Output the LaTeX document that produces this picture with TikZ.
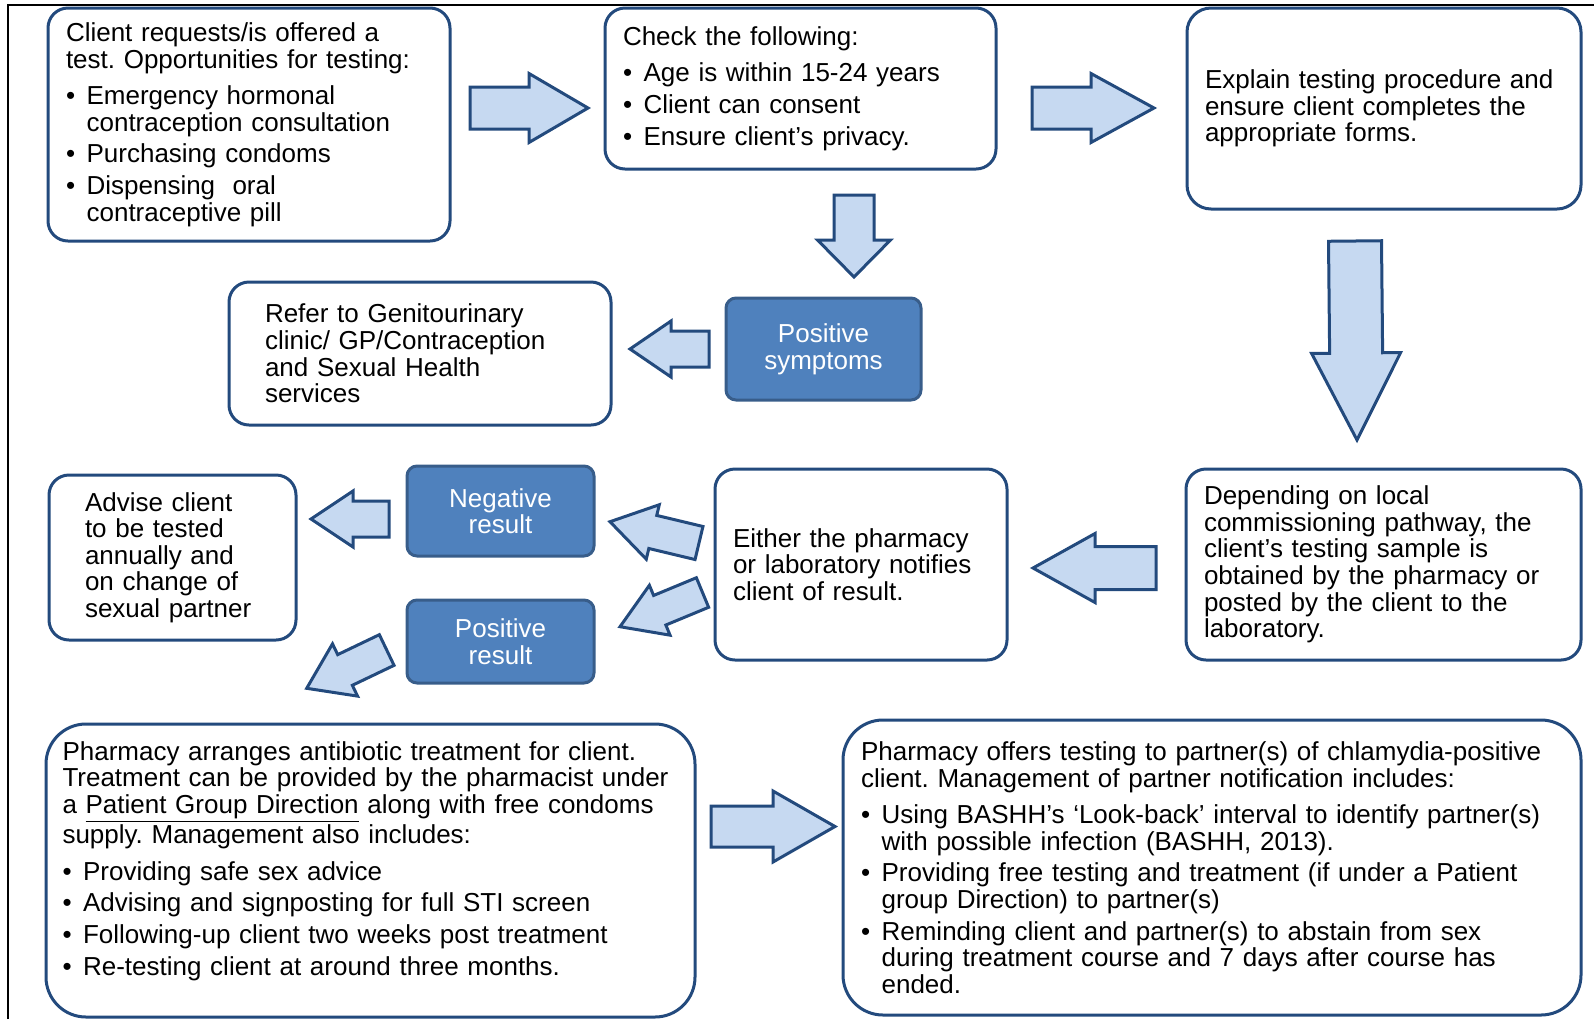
\documentclass[tikz,border=0pt]{standalone}
\usepackage{fontspec}
\setmainfont{Liberation Sans}
\usetikzlibrary{calc}

\definecolor{boxline}{RGB}{35,74,125}
\definecolor{arrowfill}{RGB}{198,217,241}
\definecolor{resultfill}{RGB}{79,129,189}
\definecolor{resultline}{RGB}{56,93,138}

\newcommand\itm{\makebox[10.3pt][l]{\textbullet}}
\newcommand\cnt{\hspace*{10.3pt}}
\frenchspacing

\begin{document}
\begin{tikzpicture}[x=0.5pt, y=-0.5pt,
  every node/.style={font=\fontsize{13}{13.3}\selectfont},
  stepbox/.style={draw=boxline, line width=1.5pt, rounded corners=10pt, fill=white,
    align=left, inner xsep=9pt, inner ysep=0pt},
  resbox/.style={draw=resultline, line width=1.5pt, rounded corners=5pt,
    fill=resultfill, text=white, align=center},
  blkarrow/.style={draw=boxline, line width=1.5pt, fill=arrowfill, line join=miter}]

  \useasboundingbox (0,0) rectangle (1594,1019);

  \newcommand\blockarrow[5]{%
    \coordinate (hb) at ($(#2)!#5!(#1)$);
    \draw[blkarrow] ($(#1)!#3!90:(#2)$) -- ($(hb)!#3!90:(#2)$) -- ($(hb)!#4!90:(#2)$) -- (#2)
      -- ($(hb)!#4!-90:(#2)$) -- ($(hb)!#3!-90:(#2)$) -- ($(#1)!#3!-90:(#2)$) -- cycle;
  }

  % frame
  \draw[line width=1pt] (8,1019) -- (8,5) -- (1594,5);

  % top row
  \node[stepbox, minimum width=201pt, minimum height=116.5pt, text width=183pt] (client) at (249,124.5)
    {Client requests/is offered a\\
     test. Opportunities for testing:\\[5pt]
     \itm Emergency hormonal\\
     \cnt contraception consultation\\[2.5pt]
     \itm Purchasing condoms\\[2.5pt]
     \itm Dispensing\ \ oral\\
     \cnt contraceptive pill};
  \node[stepbox, minimum width=195.5pt, minimum height=80.5pt, text width=177.5pt] (check) at (800.5,88.5)
    {Check the following:\\[5pt]
     \itm Age is within 15-24 years\\[2.5pt]
     \itm Client can consent\\[2.5pt]
     \itm Ensure client’s privacy.};
  \node[stepbox, rounded corners=12pt, minimum width=197pt, minimum height=100.5pt, text width=179pt] (explain) at (1384,108.5)
    {Explain testing procedure and\\
     ensure client completes the\\
     appropriate forms.};

  % symptoms row
  \node[stepbox, inner xsep=18pt, minimum width=191pt, minimum height=71.5pt, text width=155pt] (refer) at (420,353.5)
    {Refer to Genitourinary\\
     clinic/ GP/Contraception\\
     and Sexual Health\\
     services};
  \node[resbox, minimum width=97.5pt, minimum height=51pt] (possym) at (823.5,349) {Positive\\symptoms};

  % result row
  \node[stepbox, inner xsep=18pt, minimum width=123.5pt, minimum height=82.5pt, text width=87.5pt] (advise) at (172.5,557.5)
    {Advise client\\
     to be tested\\
     annually and\\
     on change of\\
     sexual partner};
  \node[resbox, minimum width=93.5pt, minimum height=45pt] (negres) at (500.5,511) {Negative\\result};
  \node[resbox, minimum width=93.5pt, minimum height=41.5pt] (posres) at (500.5,641.5) {Positive\\result};
  \node[stepbox, minimum width=146pt, minimum height=95.5pt, text width=128pt] (notify) at (861,564.5)
    {Either the pharmacy\\
     or laboratory notifies\\
     client of result.};
  \node[stepbox, minimum width=197.5pt, minimum height=95.5pt, text width=179.5pt] (sample) at (1383.5,564.5)
    {Depending on local\\
     commissioning pathway, the\\
     client’s testing sample is\\
     obtained by the pharmacy or\\
     posted by the client to the\\
     laboratory.};

  % bottom row
  \node[stepbox, rounded corners=20pt, inner xsep=8.25pt, minimum width=324.5pt, minimum height=146.5pt, text width=308pt] (treat) at (370.5,870.5)
    {Pharmacy arranges antibiotic treatment for client.\\
     Treatment can be provided by the pharmacist under\\
     a \underline{Patient Group Direction} along with free condoms\\
     supply. Management also includes:\\[5pt]
     \itm Providing safe sex advice\\[2.5pt]
     \itm Advising and signposting for full STI screen\\[2.5pt]
     \itm Following-up client two weeks post treatment\\[2.5pt]
     \itm Re-testing client at around three months.\\[-1pt]
     \mbox{}};
  \node[stepbox, rounded corners=20pt, minimum width=369pt, minimum height=147.5pt, text width=351pt] (partner) at (1212,867.5)
    {Pharmacy offers testing to partner(s) of chlamydia-positive\\
     client. Management of partner notification includes:\\[5pt]
     \itm Using BASHH’s ‘Look-back’ interval to identify partner(s)\\
     \cnt with possible infection (BASHH, 2013).\\[2.5pt]
     \itm Providing free testing and treatment (if under a Patient\\
     \cnt group Direction) to partner(s)\\[2.5pt]
     \itm Reminding client and partner(s) to abstain from sex\\
     \cnt during treatment course and 7 days after course has\\
     \cnt ended.};

  % block arrows
  \coordinate (a1s) at (470,108);     \coordinate (a1e) at (588,108);
  \coordinate (a2s) at (1032,108);    \coordinate (a2e) at (1154,108);
  \coordinate (a3s) at (854,195);     \coordinate (a3e) at (854,277);
  \coordinate (a4s) at (1355,241);    \coordinate (a4e) at (1357,440);
  \coordinate (a5s) at (709,349);     \coordinate (a5e) at (630,349);
  \coordinate (a6s) at (1156,568);    \coordinate (a6e) at (1033,568);
  \coordinate (a7s) at (389,519);     \coordinate (a7e) at (311,519);
  \coordinate (a8s) at (699,543);     \coordinate (a8e) at (610,521.7);
  \coordinate (a9s) at (702.5,592.5); \coordinate (a9e) at (620,626.7);
  \coordinate (a10s) at (386.7,650);  \coordinate (a10e) at (306.7,688.3);
  \coordinate (a11s) at (711,826.5);  \coordinate (a11e) at (835,826.5);

  \blockarrow{a1s}{a1e}{10.5pt}{17.25pt}{29.5pt}
  \blockarrow{a2s}{a2e}{10.5pt}{17.25pt}{31.5pt}
  \blockarrow{a3s}{a3e}{10pt}{18.25pt}{18.5pt}
  \blockarrow{a4s}{a4e}{13.25pt}{22.25pt}{43.5pt}
  \blockarrow{a5s}{a5e}{9pt}{14pt}{20.5pt}
  \blockarrow{a6s}{a6e}{10.75pt}{17.25pt}{31pt}
  \blockarrow{a7s}{a7e}{9pt}{14pt}{21pt}
  \blockarrow{a8s}{a8e}{8.5pt}{14pt}{22pt}
  \blockarrow{a9s}{a9e}{8pt}{13.5pt}{21.5pt}
  \blockarrow{a10s}{a10e}{8.5pt}{14.5pt}{21.25pt}
  \blockarrow{a11s}{a11e}{10.25pt}{17.75pt}{31pt}

\end{tikzpicture}
\end{document}
